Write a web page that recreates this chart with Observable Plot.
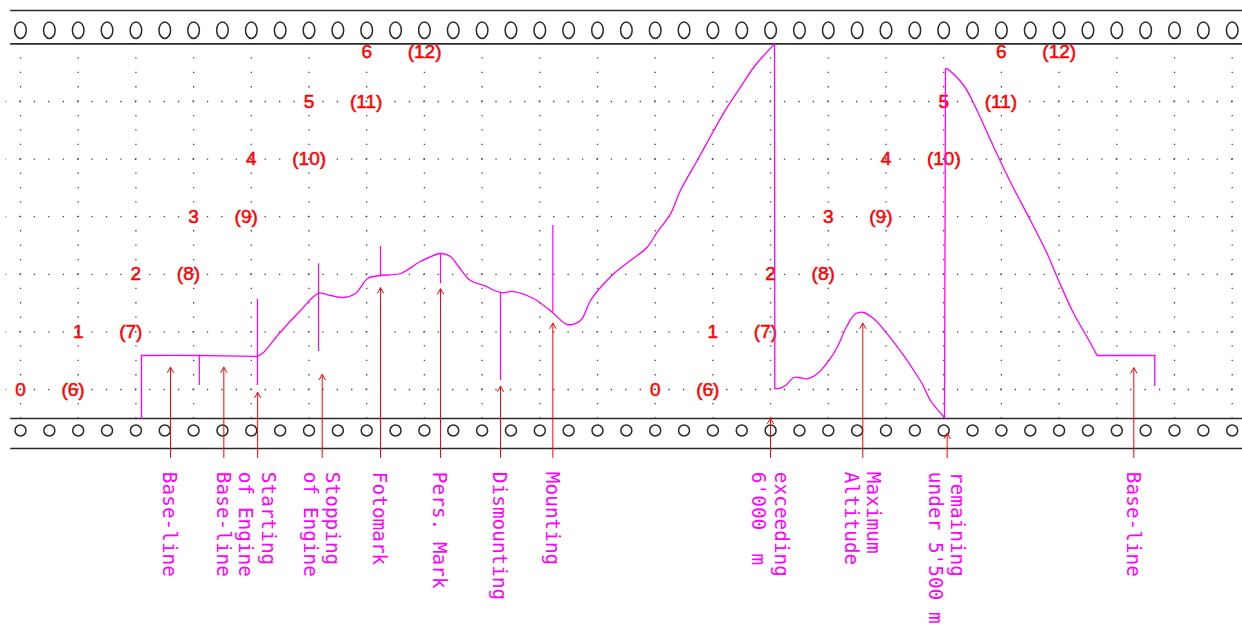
<!DOCTYPE html>
<html>
<head>
<meta charset="utf-8">
<script src="https://cdn.jsdelivr.net/npm/d3@7"></script>
<script src="https://cdn.jsdelivr.net/npm/@observablehq/plot@0.6"></script>
<style>
  html, body { margin: 0; padding: 0; background: #fff; }
  #chart svg { display: block; }
</style>
</head>
<body>
<div id="chart"></div>
<script>
// ---- Barograph trace (x = chart divisions, y = altitude scale units) ----
const traceX = [2.097, 2.097, 3.10, 4.107, 4.217, 4.454, 4.853, 5.165, 5.373, 5.598, 5.806, 5.893, 6.014, 6.239, 6.586, 6.932, 7.279, 7.452, 7.591, 7.799, 8.03, 8.319, 8.544, 8.891, 9.22, 9.48, 9.705, 9.879, 10.052, 10.282, 10.572, 10.861, 11.035, 11.265, 11.438, 11.728, 12.016, 12.248, 12.478, 12.709, 13.068, 13.073, 13.142, 13.258, 13.402, 13.489, 13.634, 13.808, 14.009, 14.154, 14.327, 14.471, 14.615, 14.789, 15.021, 15.308, 15.482, 15.627, 15.771, 16.014, 16.031, 16.06, 16.348, 16.522, 16.868, 17.158, 17.504, 17.794, 17.967, 18.255, 18.487, 18.66, 19.658, 19.658];
const traceY = [-0.503, 0.59, 0.59, 0.573, 0.648, 0.938, 1.372, 1.667, 1.632, 1.597, 1.667, 1.771, 1.927, 1.979, 2.014, 2.222, 2.361, 2.309, 2.135, 1.892, 1.806, 1.684, 1.701, 1.580, 1.337, 1.128, 1.198, 1.545, 1.771, 2.009, 2.240, 2.470, 2.731, 3.050, 3.455, 3.976, 4.497, 4.901, 5.248, 5.595, 6.0, 0.017, 0.017, 0.069, 0.208, 0.208, 0.186, 0.273, 0.503, 0.734, 1.111, 1.314, 1.337, 1.227, 0.967, 0.590, 0.330, 0.099, -0.191, -0.486, 5.568, 5.568, 5.278, 4.960, 4.207, 3.599, 2.934, 2.356, 1.950, 1.314, 0.908, 0.590, 0.590, 0.069];
// indices of sharp corners in the trace (pen jumps / steps)
const traceCorners = [1, 3, 40, 41, 59, 60, 71, 72];

// ---- Event marks drawn on the trace ----
const markX      = [3.10, 4.107, 5.165, 6.239, 7.279, 8.319, 9.226];
const markTop    = [0.59, 1.568, 2.182, 2.483, 2.356, 1.672, 2.847];
const markBottom = [0.07, 0.069, 0.66, 1.979, 1.835, 0.156, 1.342];

// ---- Annotated events (arrows + labels) ----
const eventX   = [2.60, 3.524, 4.11, 5.229, 6.239, 7.279, 8.319, 9.226, 12.998, 14.598, 16.06, 19.295];
const eventTip = [0.387, 0.387, -0.05, 0.26, 1.766, 1.748, 0.057, 1.151, -0.5, 1.151, -0.76, 0.377];
const eventLabel = ["Base-line", "Base-line", "Starting\nof Engine", "Stopping\nof Engine", "Fotomark", "Pers. Mark", "Dismounting", "Mounting", "exceeding\n6'000  m", "Maximum\nAltitude", "remaining\nunder 5'500 m", "Base-line"];

// ---- Altitude scale labels (two staggered copies) ----
const scaleLevels = [0, 1, 2, 3, 4, 5, 6];
const scaleLabels = ["0", "1", "2", "3", "4", "5", "6"];
const altLabels   = ["(6)", "(7)", "(8)", "(9)", "(10)", "(11)", "(12)"];
const scaleSetX   = [0, 11];

// ---- layout constants (scale units) ----
const FILM_TOP = 6.58, PLOT_TOP = 6, PLOT_BOTTOM = -0.503, FILM_BOTTOM = -1.024;
const HOLE_TOP = 6.238, HOLE_BOTTOM = -0.712;
const ARROW_BASE = -1.18, LABEL_Y = -1.43;

// split the trace at its corners so each smooth stretch is curved on its own
const trace = [];
const bounds = [0, ...traceCorners, traceX.length - 1];
for (let s = 0; s < bounds.length - 1; s++) {
  for (let i = bounds[s]; i <= bounds[s + 1]; i++) trace.push({x: traceX[i], y: traceY[i], seg: s});
}
const marks = markX.map((x, i) => ({x, y1: markTop[i], y2: markBottom[i]}));
const events = eventX.map((x, i) => ({x, tip: eventTip[i], label: eventLabel[i]}));
const scaleRows = [];
for (const off of scaleSetX) scaleLevels.forEach((L, i) => scaleRows.push({x: L + off, y: L, num: scaleLabels[i], alt: altLabels[i]}));

const gridX = d3.range(0, 22);
const gridY = d3.range(0, 6);
const holes = d3.range(0, 21.01, 0.5);

const oval = {
  draw(ctx) {
    const rx = 5.8, ry = 8.2, k = 0.5523;
    ctx.moveTo(rx, 0);
    ctx.bezierCurveTo(rx, ry * k, rx * k, ry, 0, ry);
    ctx.bezierCurveTo(-rx * k, ry, -rx, ry * k, -rx, 0);
    ctx.bezierCurveTo(-rx, -ry * k, -rx * k, -ry, 0, -ry);
    ctx.bezierCurveTo(rx * k, -ry, rx, -ry * k, rx, 0);
    ctx.closePath();
  }
};

const RED = "#ff0000", MAG = "#ff00ff", INK = "#2a2a2a";
const redText = {fill: RED, stroke: RED, strokeWidth: 0.5, fontSize: 19, fontFamily: "Liberation Sans"};

const chart = Plot.plot({
  width: 1242,
  height: 641,
  margin: 0,
  style: {background: "#fff"},
  x: {domain: [0, 21], range: [20, 1231.7], axis: null},
  y: {domain: [0, 6], range: [389, 43.4], axis: null},
  marks: [
    // dotted grid
    Plot.ruleX(gridX, {x: d => d, y1: PLOT_BOTTOM, y2: PLOT_TOP, stroke: "#444", strokeWidth: 1.3, strokeDasharray: "1.3,13.1", strokeDashoffset: 0.65}),
    Plot.ruleY(gridY, {y: d => d, x1: -0.25, x2: 21.6, stroke: "#444", strokeWidth: 1.3, strokeDasharray: "1.3,13.125", strokeDashoffset: 0.65}),
    // film band borders
    Plot.ruleY([FILM_TOP, PLOT_TOP, PLOT_BOTTOM, FILM_BOTTOM], {y: d => d, x1: -0.17, x2: 21.4, stroke: INK, strokeWidth: 1.6}),
    // sprocket holes
    Plot.dot(holes, {x: d => d, y: HOLE_TOP, r: 6, symbol: oval, stroke: INK, strokeWidth: 1.5, fill: "none"}),
    Plot.dot(holes, {x: d => d, y: HOLE_BOTTOM, r: 5.5, stroke: INK, strokeWidth: 1.5, fill: "none"}),
    // altitude scale labels
    Plot.text(scaleRows.filter(d => d.y < 6), {x: "x", y: "y", text: "num", textAnchor: "middle", ...redText}),
    Plot.text(scaleRows.filter(d => d.y < 6), {x: d => d.x + 0.71, y: "y", text: "alt", textAnchor: "start", ...redText}),
    Plot.text(scaleRows.filter(d => d.y >= 6), {x: "x", y: "y", dy: 8, text: "num", textAnchor: "middle", ...redText}),
    Plot.text(scaleRows.filter(d => d.y >= 6), {x: d => d.x + 0.71, y: "y", dy: 8, text: "alt", textAnchor: "start", ...redText}),
    // barograph trace
    Plot.line(trace, {x: "x", y: "y", z: "seg", curve: "catmull-rom", stroke: MAG, strokeWidth: 1.3}),
    Plot.ruleX(marks, {x: "x", y1: "y1", y2: "y2", stroke: MAG, strokeWidth: 1.2}),
    // event arrows
    Plot.arrow(events, {x1: "x", x2: "x", y1: ARROW_BASE, y2: "tip", stroke: RED, strokeWidth: 1, headLength: 9, headAngle: 60}),
    // event labels
    Plot.text(events, {x: "x", y: LABEL_Y, text: "label", rotate: 90, textAnchor: "start", lineAnchor: "middle", lineHeight: 1.15, fill: MAG, fontSize: 19.4, fontFamily: "DejaVu Sans Mono"})
  ]
});
document.getElementById("chart").appendChild(chart);
</script>
</body>
</html>
